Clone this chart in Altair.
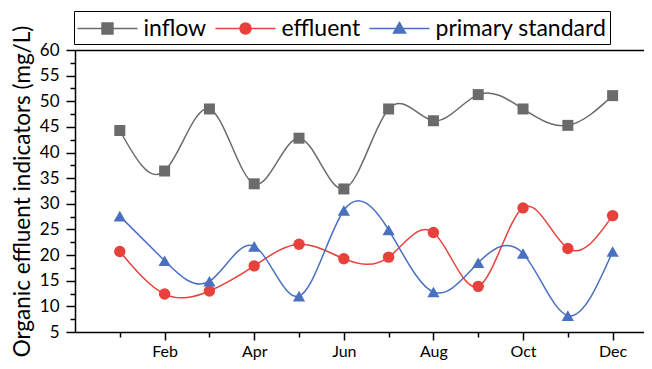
import altair as alt
import pandas as pd

months = list(range(1, 13))
month_names = ["", "Jan", "Feb", "Mar", "Apr", "May", "Jun", "Jul", "Aug", "Sep", "Oct", "Nov", "Dec"]
inflow = [44.3, 36.4, 48.5, 33.9, 42.8, 32.9, 48.5, 46.2, 51.3, 48.5, 45.3, 51.1]
effluent = [20.7, 12.4, 13.0, 17.9, 22.1, 19.3, 19.6, 24.4, 13.9, 29.2, 21.3, 27.7]
primary = [27.6, 18.9, 14.9, 21.7, 12.0, 28.7, 24.9, 12.8, 18.5, 20.3, 8.2, 20.7]
series_names = ["inflow", "effluent", "primary standard"]
colors = ["#6b6b6b", "#e8403a", "#4a70c1"]
point_shapes = ["square", "circle", "triangle-up"]
point_sizes = [121, 130, 150]
y_ticks = [5 + 2.5 * i for i in range(23)]

legend_paths = [
    "M-2.31,0H2.31M-0.42,-0.42H0.42V0.42H-0.42Z",
    "M-2.31,0H2.31M0.42,0A0.42,0.42,0,1,1,-0.42,0A0.42,0.42,0,1,1,0.42,0Z",
    "M-2.31,0H2.31M0,-0.46L0.46,0.35L-0.46,0.35Z",
]

rows = []
for name, vals in zip(series_names, [inflow, effluent, primary]):
    for m, v in zip(months, vals):
        rows.append({"month": m, "value": v, "series": name})
df = pd.DataFrame(rows)

FONT = "Lato"
x_scale = alt.Scale(domain=[0, 12.7], nice=False, zero=False)
y_scale = alt.Scale(domain=[5, 60], nice=False, zero=False)

month_arr = "[" + ",".join("'%s'" % m for m in month_names) + "]"

x_enc = alt.X(
    "month:Q",
    scale=x_scale,
    axis=alt.Axis(
        values=months,
        labelExpr="datum.value % 2 === 0 ? " + month_arr + "[datum.value] : ''",
        tickSize={"condition": {"test": "datum.value % 2 === 0", "value": 8}, "value": 5},
        grid=False,
        title=None,
        domainColor="black",
        domainWidth=1.5,
        tickColor="black",
        tickWidth=1.5,
        labelFont=FONT,
        labelFontSize=16,
        labelColor="black",
        labelPadding=3,
        labelFlush=False,
        labelOverlap=False,
    ),
)
x_top = alt.X(
    "month:Q",
    scale=x_scale,
    axis=alt.Axis(
        orient="top",
        labels=False,
        ticks=False,
        grid=False,
        title=None,
        domainColor="black",
        domainWidth=1.5,
    ),
)
y_enc = alt.Y(
    "value:Q",
    scale=y_scale,
    axis=alt.Axis(
        values=y_ticks,
        labelExpr="datum.value % 5 === 0 ? datum.label : ''",
        tickSize={"condition": {"test": "datum.value % 5 === 0", "value": 9}, "value": 5},
        grid=False,
        title="Organic effluent indicators (mg/L)",
        titleFont=FONT,
        titleFontSize=22.5,
        titleFontWeight="normal",
        titleColor="black",
        titlePadding=5,
        domainColor="black",
        domainWidth=1.5,
        tickColor="black",
        tickWidth=1.5,
        labelFont=FONT,
        labelFontSize=17,
        labelColor="black",
        labelPadding=7,
        labelOverlap=False,
    ),
)

data_layers = []
for name, col in zip(series_names, colors):
    data_layers.append(
        alt.Chart(df)
        .transform_filter(alt.datum.series == name)
        .mark_line(interpolate="natural", strokeWidth=1.5, color=col)
        .encode(x=x_enc, y=y_enc)
    )
for name, col, shp, sz in zip(series_names, colors, point_shapes, point_sizes):
    data_layers.append(
        alt.Chart(df)
        .transform_filter(alt.datum.series == name)
        .mark_point(shape=shp, filled=True, size=sz, opacity=1, color=col)
        .encode(x=x_enc, y=y_enc)
    )


def make_legend():
    return alt.Legend(
        orient="none",
        legendX=-1,
        legendY=-39,
        direction="horizontal",
        columns=3,
        title=None,
        strokeColor="black",
        fillColor="white",
        padding=3.5,
        cornerRadius=0,
        symbolSize=676,
        symbolStrokeWidth=1.5,
        symbolOpacity=1,
        symbolOffset=16,
        labelOffset=22,
        columnPadding=5,
        labelFont=FONT,
        labelFontSize=23,
        labelColor="black",
        labelLimit=400,
    )


legend_layer = alt.Chart(df).mark_point(filled=True, opacity=0).encode(
    x=x_top,
    y=y_enc,
    color=alt.Color("series:N", scale=alt.Scale(domain=series_names, range=colors), legend=make_legend()),
    stroke=alt.Stroke("series:N", scale=alt.Scale(domain=series_names, range=colors), legend=make_legend()),
    shape=alt.Shape("series:N", scale=alt.Scale(domain=series_names, range=legend_paths), legend=make_legend()),
)

chart = (
    alt.layer(alt.layer(*data_layers), legend_layer)
    .resolve_axis(x="independent")
    .properties(
        width=569,
        height=282,
        autosize=alt.AutoSizeParams(type="none"),
        padding={"left": 67, "top": 42, "right": 0, "bottom": 29},
        background="white",
    )
    .configure_view(stroke=None)
)

chart.save("out.html", embed_options={"renderer": "svg", "actions": False})
